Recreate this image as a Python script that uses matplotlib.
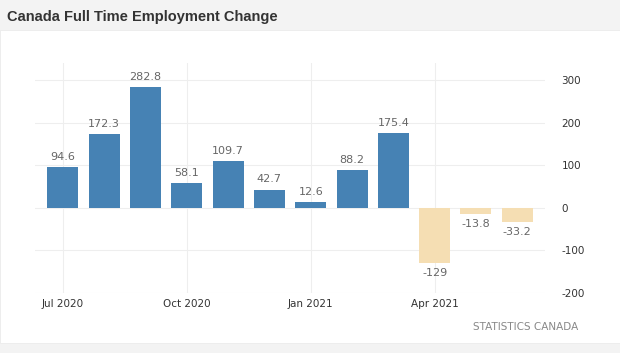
import matplotlib
matplotlib.use("Agg")
import matplotlib.pyplot as plt
from matplotlib.patches import Rectangle

plt.rcParams["axes.unicode_minus"] = False

# --- data (thousands, monthly change) ---
months = ["Jul 2020", "Aug 2020", "Sep 2020", "Oct 2020", "Nov 2020", "Dec 2020",
          "Jan 2021", "Feb 2021", "Mar 2021", "Apr 2021", "May 2021", "Jun 2021"]
values = [94.6, 172.3, 282.8, 58.1, 109.7, 42.7, 12.6, 88.2, 175.4, -129, -13.8, -33.2]
labels = ["94.6", "172.3", "282.8", "58.1", "109.7", "42.7", "12.6", "88.2", "175.4",
          "-129", "-13.8", "-33.2"]
tick_months = ["Jul 2020", "Oct 2020", "Jan 2021", "Apr 2021"]
yticks = [-200, -100, 0, 100, 200, 300]

POS, NEG = "#4682b4", "#f5deb3"

fig = plt.figure(figsize=(6.2, 3.53), dpi=100)
fig.patch.set_facecolor("#f3f3f3")

# white card behind the chart
fig.patches.append(Rectangle((0.0, 0.028), 1.0, 0.887, transform=fig.transFigure,
                             facecolor="white", edgecolor="#ebebeb", lw=0.6, zorder=0))

fig.text(0.012, 0.953, "Canada Full Time Employment Change", fontsize=10.5,
         fontweight="bold", color="#333333", va="center", ha="left",
         family="Liberation Sans")

ax = fig.add_axes([0.056, 0.170, 0.823, 0.652])
ax.set_zorder(2)
ax.set_facecolor("none")
x = list(range(len(months)))
colors = [POS if v >= 0 else NEG for v in values]
ax.bar(x, values, width=0.75, color=colors, zorder=3)

for xi, v, lab in zip(x, values, labels):
    if v >= 0:
        ax.text(xi, v + 12, lab, ha="center", va="bottom", fontsize=8, color="#666666")
    else:
        ax.text(xi, v - 12, lab, ha="center", va="top", fontsize=8, color="#666666")

ax.set_xlim(-0.68, 11.67)
ax.set_ylim(-200, 340)
ax.set_xticks([months.index(m) for m in tick_months])
ax.set_xticklabels(tick_months)
ax.set_yticks(yticks)
ax.yaxis.tick_right()
ax.tick_params(axis="both", length=0, labelsize=7.5, colors="#333333")
ax.tick_params(axis="y", pad=12)
ax.tick_params(axis="x", pad=4)
ax.grid(True, color="#eeeeee", lw=0.8, zorder=0)
for s in ax.spines.values():
    s.set_visible(False)

fig.text(0.932, 0.075, "STATISTICS CANADA", fontsize=7.5, color="#888888",
         ha="right", va="center")

fig.savefig("out.png", dpi=100, facecolor=fig.get_facecolor())
